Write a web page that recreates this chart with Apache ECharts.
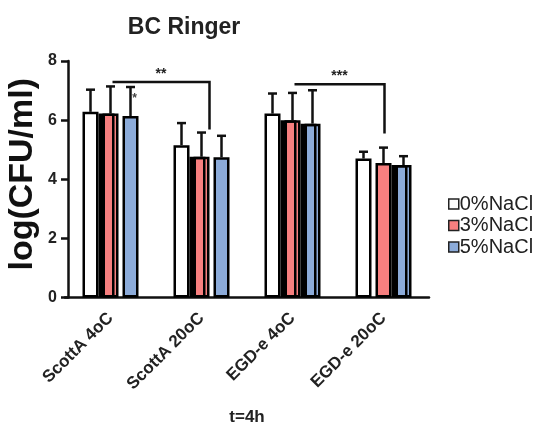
<!DOCTYPE html>
<html>
<head>
<meta charset="utf-8">
<script src="https://cdn.jsdelivr.net/npm/echarts@6/dist/echarts.min.js"></script>
<style>
  html, body { margin: 0; padding: 0; background: #fff; }
  #chart { width: 536px; height: 429px; }
</style>
</head>
<body>
<div id="chart"></div>
<script>
// Strains / temperatures on the x axis
const categories = ['ScottA 4oC', 'ScottA 20oC', 'EGD-e 4oC', 'EGD-e 20oC'];
const seriesNames = ['0%NaCl', '3%NaCl', '5%NaCl'];

// Mean log(CFU/ml) per salt level
const mean0 = [6.28, 5.15, 6.22, 4.70];
const mean3 = [6.22, 4.76, 6.00, 4.55];
const mean5 = [6.14, 4.74, 5.88, 4.48];

// Standard deviations (upper error bars)
const sd0 = [0.75, 0.75, 0.68, 0.23];
const sd3 = [0.92, 0.82, 0.92, 0.52];
const sd5 = [0.98, 0.73, 1.13, 0.30];

// Significance brackets: [from category, to category, bracket height, drop end, label]
const brackets = [
  [0, 1, 7.29, 5.68, '**'],
  [2, 3, 7.21, 5.55, '***']
];
// Single markers: [category, series index, height, label]
const notes = [[0, 2, 6.74, '*']];

const yTicks = [0, 2, 4, 6, 8];

const means = [mean0, mean3, mean5];
const sds = [sd0, sd3, sd5];
const colors = ['#ffffff', '#f77f7f', '#8cabd9'];
// dark fill in the gap left of a bar, per series / category
const leftShade = [
  [false, false, false, false],
  [true, true, true, false],
  [false, false, true, true]
];
const FONT = '"Liberation Sans", Arial, Helvetica, sans-serif';
const BAR_STEP = 20;   // px between neighbouring bar centres
const bracketDrop = [8, 1]; // px shift of the bracket's right leg

const chart = echarts.init(document.getElementById('chart'), null, { renderer: 'canvas' });

const barSeries = seriesNames.map((name, s) => ({
  name,
  type: 'bar',
  barWidth: 16,
  barGap: '25%',
  barCategoryGap: '38%',
  z: 2,
  itemStyle: { color: colors[s], borderColor: '#000', borderWidth: 2.5 },
  data: means[s].map((v, i) => leftShade[s][i] ? {
    value: v,
    itemStyle: { shadowColor: '#000', shadowBlur: 0, shadowOffsetX: -4 }
  } : v)
}));

const errorSeries = seriesNames.map((name, s) => ({
  name: name + ' SD',
  type: 'custom',
  z: 3,
  silent: true,
  encode: { x: 0, y: 2 },
  data: means[s].map((v, i) => [i, v, v + sds[s][i]]),
  renderItem(params, api) {
    const off = (s - 1) * BAR_STEP;
    const base = api.coord([api.value(0), api.value(1)]);
    const top = api.coord([api.value(0), api.value(2)]);
    const x = base[0] + off;
    return {
      type: 'group',
      children: [
        { type: 'line', shape: { x1: x, y1: base[1], x2: x, y2: top[1] },
          style: { stroke: '#111', lineWidth: 2.5 } },
        { type: 'line', shape: { x1: x - 4.5, y1: top[1], x2: x + 4.5, y2: top[1] },
          style: { stroke: '#111', lineWidth: 2.5 } }
      ]
    };
  }
}));

const bracketSeries = {
  type: 'custom',
  z: 4,
  silent: true,
  encode: { x: 0, y: 2 },
  data: brackets,
  renderItem(params, api) {
    const b = brackets[params.dataIndex];
    const a = api.coord([b[0], b[2]]);
    const c = api.coord([b[1], b[2]]);
    const d = api.coord([b[1], b[3]]);
    const x1 = a[0] + 2;
    const x2 = c[0] + bracketDrop[params.dataIndex];
    return {
      type: 'group',
      children: [
        { type: 'polyline',
          shape: { points: [[x1, a[1]], [x2, c[1]], [x2, d[1]]] },
          style: { stroke: '#111', lineWidth: 2.5, fill: null } },
        { type: 'text',
          style: { x: (x1 + x2) / 2, y: a[1] - 1, text: b[4], align: 'center',
                   verticalAlign: 'bottom', font: 'bold 14px ' + FONT, fill: '#222' } }
      ]
    };
  }
};

const noteSeries = {
  type: 'custom',
  z: 4,
  silent: true,
  encode: { x: 0, y: 2 },
  data: notes,
  renderItem(params, api) {
    const n = notes[params.dataIndex];
    const p = api.coord([n[0], n[2]]);
    return {
      type: 'text',
      style: { x: p[0] + (n[1] - 1) * BAR_STEP + 4, y: p[1], text: n[3], align: 'center',
               verticalAlign: 'middle', font: 'bold 12px ' + FONT, fill: '#444' }
    };
  }
};

chart.setOption({
  animation: false,
  backgroundColor: '#ffffff',
  title: {
    text: 'BC Ringer',
    left: 179,
    top: 11,
    textAlign: 'center',
    textStyle: { fontFamily: FONT, fontSize: 23, fontWeight: 'bold', color: '#222' }
  },
  legend: {
    orient: 'vertical',
    left: 443,
    top: 189,
    itemWidth: 10,
    itemHeight: 10,
    itemGap: 1.5,
    icon: 'rect',
    data: seriesNames,
    itemStyle: { borderColor: '#222', borderWidth: 1.5, shadowBlur: 0, shadowOffsetX: 0, shadowColor: 'transparent' },
    textStyle: { fontFamily: FONT, fontSize: 20, color: '#222', padding: [0, 0, 0, -4] }
  },
  grid: { left: 65, right: 107, top: 61, bottom: 131.5, containLabel: false, outerBoundsMode: 'none' },
  xAxis: {
    type: 'category',
    data: categories,
    name: 't=4h',
    nameLocation: 'middle',
    nameGap: 111,
    nameMoveOverlap: false,
    nameTextStyle: { fontFamily: FONT, fontSize: 17, fontWeight: 'bold', color: '#222' },
    axisLine: { lineStyle: { color: '#111', width: 2.5 } },
    axisTick: { alignWithLabel: true, length: 5, lineStyle: { color: '#111', width: 2 } },
    axisLabel: { rotate: 45, margin: 18, fontFamily: FONT, fontSize: 17, fontWeight: 'bold', color: '#222' }
  },
  yAxis: {
    type: 'value',
    min: yTicks[0],
    max: yTicks[yTicks.length - 1],
    interval: 2,
    offset: -3,
    name: 'log(CFU/ml)',
    nameLocation: 'middle',
    nameGap: 28,
    nameMoveOverlap: false,
    nameTextStyle: { fontFamily: FONT, fontSize: 34, fontWeight: 'bold', color: '#111', padding: [0, 0, 0, 10] },
    axisLine: { show: true, lineStyle: { color: '#111', width: 2.5 } },
    axisTick: { show: true, length: 7, lineStyle: { color: '#111', width: 2.5 } },
    axisLabel: { margin: 11, fontFamily: FONT, fontSize: 16, fontWeight: 'bold', color: '#222' },
    splitLine: { show: false }
  },
  series: [...barSeries, ...errorSeries, bracketSeries, noteSeries]
});
</script>
</body>
</html>
